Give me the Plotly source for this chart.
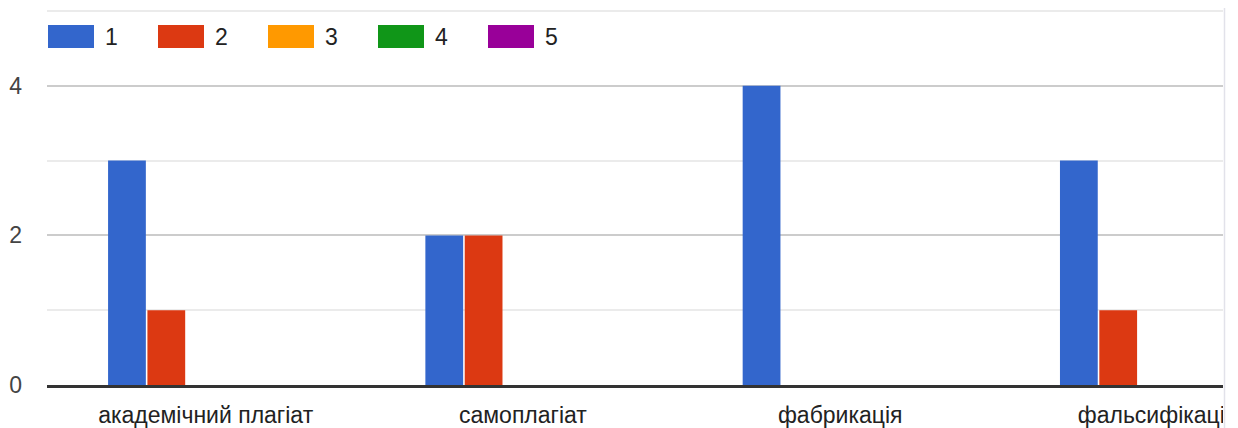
import plotly.graph_objects as go

categories = ["академічний плагіат", "самоплагіат", "фабрикація", "фальсифікація"]
series_names = ["1", "2", "3", "4", "5"]
values_1 = [3, 2, 4, 3]
values_2 = [1, 2, 0, 1]
values_3 = [0, 0, 0, 0]
values_4 = [0, 0, 0, 0]
values_5 = [0, 0, 0, 0]
colors = ["#3366cc", "#dc3912", "#ff9900", "#109618", "#990099"]
y_ticks = [0, 2, 4]

all_values = [values_1, values_2, values_3, values_4, values_5]

# The page body has an 8px default margin; work in page pixels and shift.
OFF = 8
PAGE_W, PAGE_H = 1238, 428
W, H = PAGE_W - OFF, PAGE_H - OFF
PLOT_L, PLOT_R, PLOT_T, PLOT_B = 47, 1223, 8, 385   # page pixels
L = PLOT_L - OFF
R = W - (PLOT_R - OFF)
T = PLOT_T - OFF
B = H - (PLOT_B - OFF)
PW, PH = W - L - R, H - T - B
UNIT_Y = 74.8
CAT_W = 317.3
FONT = "Arial, 'Liberation Sans', sans-serif"
FS = 23

fig = go.Figure()
xs = list(range(len(categories)))
for name, vals, col in zip(series_names, all_values, colors):
    fig.add_trace(go.Bar(x=xs, y=vals, name=name, marker=dict(color=col, line=dict(width=0)),
                         showlegend=False))


def px_x(p):
    return (p - PLOT_L) / PW


def px_y(p):
    return (PLOT_B - p) / PH


# manual legend (Google-chart style wide swatches)
shapes = []
annotations = []
for i, (name, col) in enumerate(zip(series_names, colors)):
    x0 = 48 + 110 * i
    shapes.append(dict(type="rect", xref="paper", yref="paper",
                       x0=px_x(x0), x1=px_x(x0 + 46), y0=px_y(48), y1=px_y(25),
                       fillcolor=col, line=dict(width=0), layer="above"))
    annotations.append(dict(xref="paper", yref="paper", x=px_x(x0 + 55), y=px_y(37),
                            text=name, showarrow=False, xanchor="left", yanchor="middle",
                            font=dict(family=FONT, size=FS, color="#222222")))

# crop on the right side (chart is cut off in the reference)
shapes.append(dict(type="rect", xref="paper", yref="paper",
                   x0=px_x(1223), x1=px_x(PAGE_W + 5), y0=px_y(PAGE_H + 5), y1=px_y(-5),
                   fillcolor="white", line=dict(width=0), layer="above"))
shapes.append(dict(type="line", xref="paper", yref="paper",
                   x0=px_x(1224.5), x1=px_x(1224.5), y0=px_y(PAGE_H + 5), y1=px_y(-5),
                   line=dict(color="#e2e2ea", width=1.5), layer="above"))

fig.update_layout(
    width=W, height=H,
    margin=dict(l=L, r=R, t=T, b=B),
    paper_bgcolor="white", plot_bgcolor="white",
    barmode="group", bargap=0.38, bargroupgap=0.04,
    font=dict(family=FONT, size=FS, color="#444444"),
    shapes=shapes, annotations=annotations,
    xaxis=dict(
        range=[-0.5, -0.5 + PW / CAT_W],
        tickmode="array", tickvals=xs, ticktext=categories,
        showgrid=False, zeroline=False, showline=True, linecolor="#333333", linewidth=3,
        ticks="", automargin=False, ticklabelstandoff=7,
        tickfont=dict(family=FONT, size=FS, color="#222222"),
    ),
    yaxis=dict(
        range=[0, PH / UNIT_Y], tickmode="array", tickvals=y_ticks,
        showgrid=True, gridcolor="#cccccc", gridwidth=2,
        minor=dict(dtick=1, tick0=0, showgrid=True, gridcolor="#ebebeb", gridwidth=2),
        zeroline=False, showline=False, ticks="", automargin=False,
        ticklabelstandoff=24,
        tickfont=dict(family=FONT, size=FS, color="#444444"),
    ),
)

fig.write_html("out.html")
